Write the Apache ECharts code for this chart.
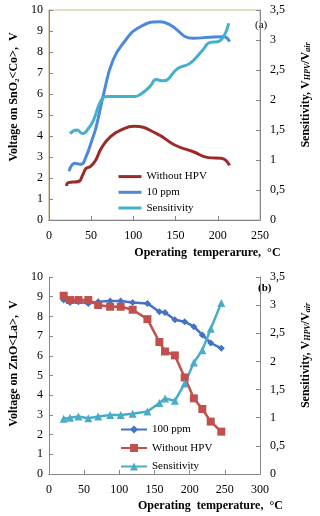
<!DOCTYPE html>
<html><head><meta charset="utf-8">
<script src="https://cdn.jsdelivr.net/npm/echarts@6/dist/echarts.min.js"></script>
<style>html,body{margin:0;padding:0;background:#fff}#c{width:320px;height:516px}</style>
</head><body><div id="c"></div>
<script>
// ---- Panel (a): SnO2<Co> ----
var aNoHpvT = [21, 23, 35, 40, 44, 49, 55, 62, 73, 87, 101, 127, 149, 171, 189, 204, 214];
var aNoHpvV = [1.62, 1.78, 1.83, 2.14, 2.46, 2.54, 2.82, 3.41, 3.97, 4.32, 4.46, 4.13, 3.57, 3.25, 2.97, 2.94, 2.6];
var a10ppmT = [24, 31, 38, 44, 51, 56, 65, 76, 91, 105, 131, 142, 171, 189, 207, 214];
var a10ppmV = [2.33, 2.7, 2.65, 3.02, 3.81, 4.44, 6.03, 7.62, 8.57, 9.13, 9.44, 9.33, 8.65, 8.7, 8.73, 8.49];
var aSensT = [25, 33, 40, 47, 53, 62, 69, 102, 109, 120, 127, 135, 153, 167, 182, 191, 200, 207, 213];
var aSensS = [1.44, 1.5, 1.44, 1.53, 1.67, 2.0, 2.06, 2.06, 2.1, 2.23, 2.34, 2.32, 2.53, 2.61, 2.83, 2.96, 2.97, 3.06, 3.28];
// ---- Panel (b): ZnO<La> ----
var bT = [21, 30, 42, 56, 70, 87, 102, 119, 140, 157, 165, 179, 193, 206, 218, 230, 245];
var b100ppmV = [8.83, 8.7, 8.75, 8.66, 8.75, 8.78, 8.78, 8.7, 8.66, 8.24, 8.2, 7.83, 7.73, 7.48, 7.06, 6.65, 6.38];
var bNoHpvV = [9.05, 8.83, 8.83, 8.83, 8.58, 8.49, 8.49, 8.34, 7.86, 6.7, 6.22, 6.02, 4.9, 3.84, 3.3, 2.66, 2.15];
var bSensS = [0.98, 1.0, 1.02, 0.99, 1.02, 1.05, 1.05, 1.07, 1.11, 1.26, 1.34, 1.30, 1.61, 1.98, 2.2, 2.58, 3.04];

function pairs(xs, ys) { return xs.map(function (x, i) { return [x, ys[i]]; }); }

var FONT = '"Liberation Serif", "Times New Roman", serif';
var AXC = '#868686';
var lbl = { color: '#000', fontFamily: FONT, fontSize: 12 };

function xAx(gi, max, name, gap, shift) {
  return {
    type: 'value', gridIndex: gi, min: 0, max: max, interval: 50,
    axisLine: { show: true, lineStyle: { color: AXC } },
    axisTick: { show: true, inside: true, length: 4, lineStyle: { color: AXC } },
    splitLine: { show: false },
    axisLabel: Object.assign({ margin: 10 }, lbl),
    name: name, nameLocation: 'middle', nameGap: gap,
    nameTextStyle: { fontFamily: FONT, fontSize: 12, fontWeight: 'bold', color: '#000', verticalAlign: 'top', padding: [0, 0, 0, shift] }
  };
}
function yLeft(gi, name, shift) {
  return {
    type: 'value', gridIndex: gi, min: 0, max: 10, interval: 1, position: 'left',
    axisLine: { show: true, lineStyle: { color: AXC } },
    axisTick: { show: true, inside: true, length: 4, lineStyle: { color: AXC } },
    splitLine: { show: false },
    axisLabel: Object.assign({ margin: 6 }, lbl),
    name: name, nameLocation: 'middle', nameGap: 27, nameRotate: 90,
    nameTextStyle: { fontFamily: FONT, fontSize: 12, fontWeight: 'bold', color: '#000', padding: [0, 0, 0, shift] }
  };
}
function yRight(gi, shift) {
  return {
    type: 'value', gridIndex: gi, min: 0, max: 3.5, interval: 0.5, position: 'right',
    axisLine: { show: true, lineStyle: { color: AXC } },
    axisTick: { show: true, inside: true, length: 4, lineStyle: { color: AXC } },
    splitLine: { show: false },
    axisLabel: Object.assign({ margin: 10, formatter: function (v) { return String(v).replace('.', ','); } }, lbl),
    name: '{b|Sensitivity, V}{s|HPV}{b|/V}{s|air}', nameLocation: 'middle', nameGap: 38, nameRotate: 90,
    nameTextStyle: {
      color: '#000', padding: [0, 0, 0, shift],
      rich: {
        b: { fontFamily: FONT, fontSize: 12, fontWeight: 'bold', color: '#000', verticalAlign: 'bottom', lineHeight: 14 },
        s: { fontFamily: FONT, fontSize: 8, fontWeight: 'bold', fontStyle: 'italic', color: '#000', verticalAlign: 'bottom', lineHeight: 10, padding: [4, 0, 0, 0] }
      }
    }
  };
}

var chart = echarts.init(document.getElementById('c'), null, { renderer: 'canvas' });
chart.setOption({
  animation: false,
  backgroundColor: '#fff',
  grid: [
    { left: 40, right: 50, top: 10, height: 210, show: true, borderColor: '#c8b98a', borderWidth: 1, backgroundColor: 'transparent' },
    { left: 42, right: 49, top: 277, height: 197 }
  ],
  xAxis: [xAx(0, 250, 'Operating  temperarure,  °C', 27, 106), xAx(1, 300, 'Operating  temperature,  °C', 26, 112)],
  yAxis: [yLeft(0, 'Voltage on SnO₂<Co>,  V', 36), yRight(0, 40), yLeft(1, 'Voltage on ZnO<La>,  V', 24), yRight(1, 40)],
  legend: [
    {
      orient: 'vertical', left: 117, top: 171, padding: 0, itemWidth: 23, itemHeight: 14, itemGap: 4.5,
      itemStyle: { opacity: 0, borderWidth: 0 },
      lineStyle: { width: 3 },
      textStyle: { fontFamily: FONT, fontSize: 11, color: '#000' },
      data: ['Without HPV', '10 ppm', 'Sensitivity']
    },
    {
      orient: 'vertical', left: 120, top: 424, padding: 0, itemWidth: 26, itemHeight: 10, itemGap: 7.5,
      textStyle: { fontFamily: FONT, fontSize: 11, color: '#000' },
      data: ['100 ppm', 'Without HPV ', 'Sensitivity ']
    }
  ],
  graphic: [
    { type: 'text', left: 255, top: 20, style: { text: '(a)', font: '11px ' + FONT, fill: '#000' } },
    { type: 'text', left: 258, top: 283, style: { text: '(b)', font: 'bold 11px ' + FONT, fill: '#000' } }
  ],
  series: [
    { name: 'Without HPV', type: 'line', xAxisIndex: 0, yAxisIndex: 0, smooth: true, symbol: 'none',
      lineStyle: { color: '#9b2b2b', width: 3 }, itemStyle: { color: '#9b2b2b' }, data: pairs(aNoHpvT, aNoHpvV) },
    { name: '10 ppm', type: 'line', xAxisIndex: 0, yAxisIndex: 0, smooth: true, symbol: 'none',
      lineStyle: { color: '#4a89dc', width: 3 }, itemStyle: { color: '#4a89dc' }, data: pairs(a10ppmT, a10ppmV) },
    { name: 'Sensitivity', type: 'line', xAxisIndex: 0, yAxisIndex: 1, smooth: true, symbol: 'none',
      lineStyle: { color: '#45b0cc', width: 3 }, itemStyle: { color: '#45b0cc' }, data: pairs(aSensT, aSensS) },

    { name: '100 ppm', type: 'line', xAxisIndex: 1, yAxisIndex: 2, symbol: 'diamond', symbolSize: 7,
      lineStyle: { color: '#4472c4', width: 2.5 }, itemStyle: { color: '#4472c4' }, data: pairs(bT, b100ppmV) },
    { name: 'Without HPV ', type: 'line', xAxisIndex: 1, yAxisIndex: 2, symbol: 'rect', symbolSize: 8,
      lineStyle: { color: '#c0504d', width: 2.5 }, itemStyle: { color: '#c0504d' }, data: pairs(bT, bNoHpvV) },
    { name: 'Sensitivity ', type: 'line', xAxisIndex: 1, yAxisIndex: 3, symbol: 'triangle', symbolSize: 8,
      lineStyle: { color: '#4bacc6', width: 2.5 }, itemStyle: { color: '#4bacc6' }, data: pairs(bT, bSensS) }
  ]
});
</script></body></html>
